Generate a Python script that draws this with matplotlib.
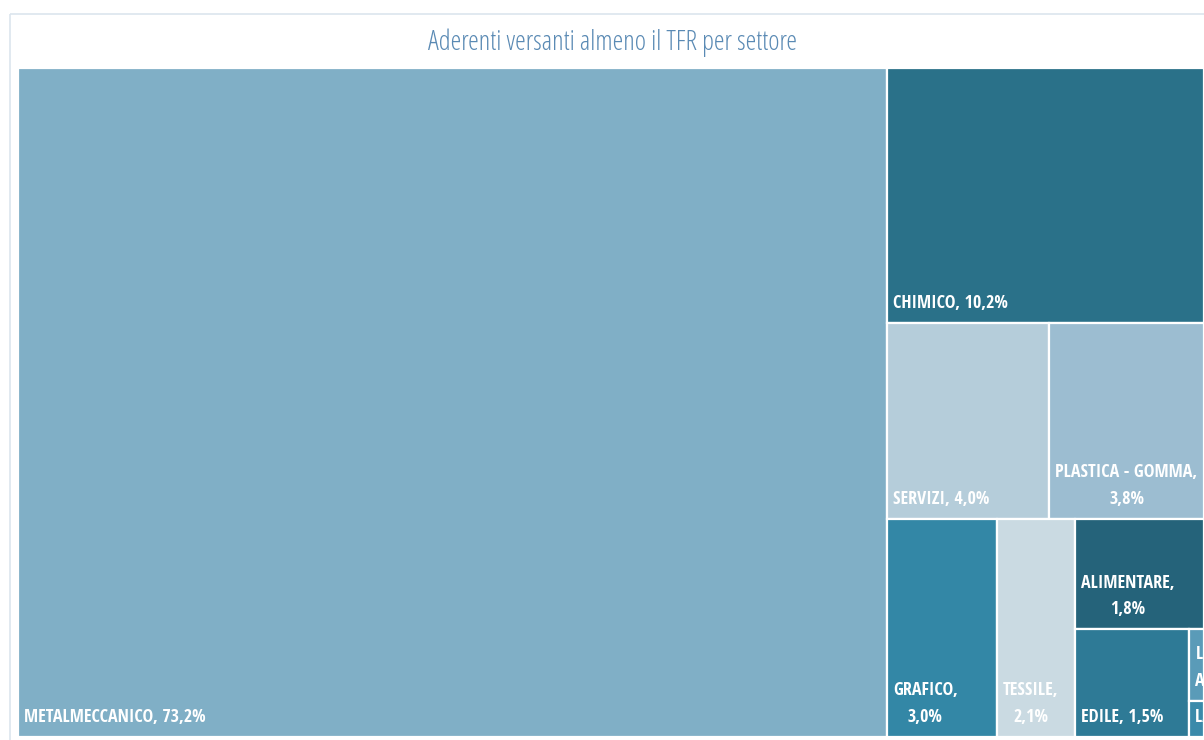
import matplotlib
matplotlib.use("Agg")
import matplotlib.pyplot as plt
from matplotlib.patches import Rectangle

# sector shares (percent) as shown on the treemap
sectors = ["METALMECCANICO", "CHIMICO", "SERVIZI", "PLASTICA - GOMMA", "GRAFICO",
           "TESSILE", "ALIMENTARE", "EDILE", "LEGNO - ARREDO", "LAPIDEI"]
shares = [73.2, 10.2, 4.0, 3.8, 3.04, 2.14, 1.8, 1.54, 0.14, 0.07]
labels = ["METALMECCANICO, 73,2%", "CHIMICO, 10,2%", "SERVIZI, 4,0%",
          "PLASTICA - GOMMA,\n3,8%", "GRAFICO,\n3,0%", "TESSILE,\n2,1%",
          "ALIMENTARE,\n1,8%", "EDILE, 1,5%", "LEGNO -\nARREDO,", "LAPIDEI, 0,1%"]
colors = ["#80AFC6", "#2A7189", "#B5CDDA", "#9CBDD1", "#3387A6",
          "#CADAE2", "#25637A", "#2E7A96", "#5A9BB8", "#3A8AAA"]
title = "Aderenti versanti almeno il TFR per settore"

# nesting of the treemap: 'h' splits width, 'v' splits height
layout = ("h", [0, ("v", [1, ("h", [2, 3]),
                          ("h", [4, 5, ("v", [6, ("h", [7, ("v", [8, 9])])])])])])

plt.rcParams["font.family"] = ["Open Sans Condensed", "Carlito", "DejaVu Sans"]


def total(node):
    if isinstance(node, int):
        return shares[node]
    return sum(total(c) for c in node[1])


def place(node, x, y, w, h, out):
    if isinstance(node, int):
        out[node] = (x, y, w, h)
        return
    kind, kids = node
    s = total(node)
    pos = 0.0
    for c in kids:
        f = total(c) / s
        if kind == "h":
            place(c, x + pos * w, y, f * w, h, out)
        else:
            place(c, x, y + pos * h, w, f * h, out)
        pos += f


W, H = 1204, 740
fig = plt.figure(figsize=(W / 100, H / 100), dpi=100)
ax = fig.add_axes([0, 0, 1, 1])
ax.set_xlim(0, W)
ax.set_ylim(H, 0)
ax.axis("off")

# chart frame
ax.add_patch(Rectangle((9.5, 13.5), W, H, fill=False, edgecolor="#DCE5ED", lw=1.2))

rects = {}
place(layout, 18, 68, 1186, 669, rects)

for i in range(len(sectors)):
    x, y, w, h = rects[i]
    r = Rectangle((x, y), w, h, facecolor=colors[i], edgecolor="white", lw=1.6)
    ax.add_patch(r)
    t = ax.text(x + 6, y + h - 11, labels[i], ha="left", va="bottom",
                multialignment="center", color="white", fontsize=13,
                fontweight="bold", linespacing=1.62)
    t.set_clip_path(r)

ax.text(613, 50, title, ha="center", va="baseline", color="#5A8AB4", fontsize=19.5,
        family=["Open Sans", "Carlito", "DejaVu Sans"], fontstretch="condensed",
        fontweight="light")

fig.savefig("out.png", dpi=100)
